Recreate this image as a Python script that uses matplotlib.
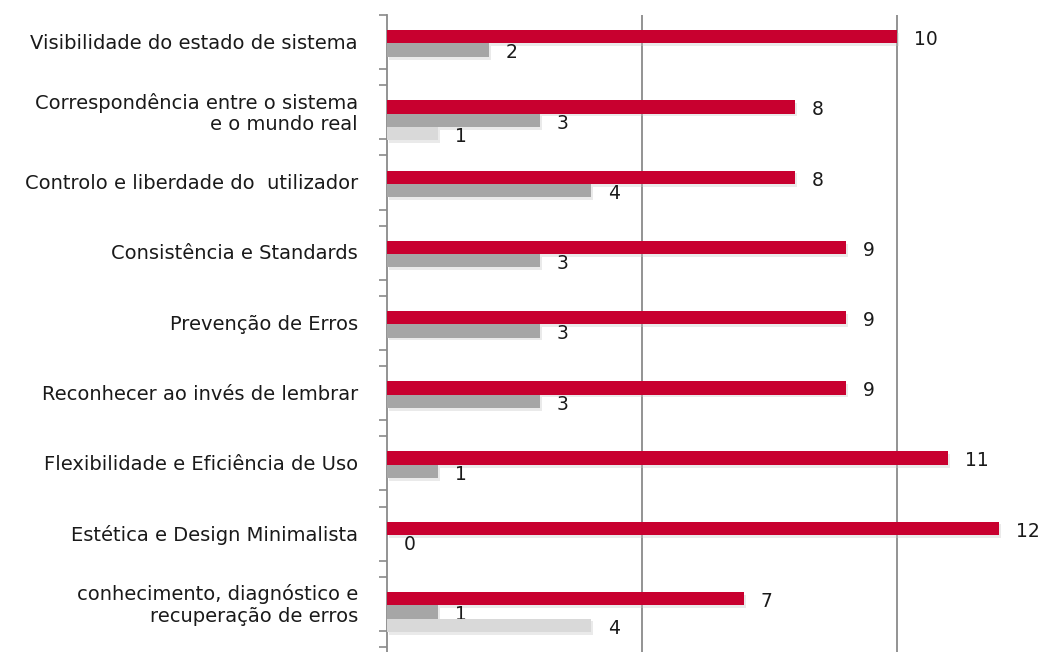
import matplotlib
matplotlib.use('Agg')
import matplotlib.pyplot as plt
import matplotlib.patheffects as pe
import numpy as np

categories = ['Visibilidade do estado de sistema',
              'Correspondência entre o sistema\ne o mundo real',
              'Controlo e liberdade do  utilizador',
              'Consistência e Standards',
              'Prevenção de Erros',
              'Reconhecer ao invés de lembrar',
              'Flexibilidade e Eficiência de Uso',
              'Estética e Design Minimalista',
              'conhecimento, diagnóstico e\nrecuperação de erros']
red_vals = [10, 8, 8, 9, 9, 9, 11, 12, 7]
dark_vals = [2, 3, 4, 3, 3, 3, 1, 0, 1]
light_vals = [None, 1, None, None, None, None, None, None, 4]

colors = ['#C8002F', '#A6A6A6', '#D9D9D9']
series = [red_vals, dark_vals, light_vals]
offsets = [-0.19, 0.0, 0.19]
bar_h = 0.19

fig = plt.figure(figsize=(10.42, 6.52), dpi=100)
ax = fig.add_axes([387 / 1042, 0, 1 - 387 / 1042, 1 - 15 / 652])

font = 'DejaVu Sans'
y = np.arange(len(categories))
shadow = [pe.SimplePatchShadow(offset=(1.5, -2), shadow_rgbFace='#c4c4c4', alpha=0.35), pe.Normal()]

for vals, col, off in zip(series, colors, offsets):
    for i, v in enumerate(vals):
        if v is None:
            continue
        b = ax.barh(y[i] + off, v, height=bar_h, color=col, zorder=3)
        for p in b:
            p.set_path_effects(shadow)
        ax.annotate(str(v), (v, y[i] + off), xytext=(12, -2), textcoords='offset points',
                    ha='left', va='center', fontsize=13.5, family=font, color='#1a1a1a')

for i, lab in enumerate(categories):
    ax.text(-0.57, y[i] - 0.1, lab, ha='right', va='center', fontsize=14,
            family=font, color='#1a1a1a', clip_on=False, linespacing=1.15)

ax.set_xlim(0, (1042 - 387) / 51)
ax.set_ylim(8.57, -0.5)
for gx in [5, 10]:
    ax.axvline(gx, color='#8a8a8a', lw=1.3, zorder=1)

for s in ['top', 'right', 'bottom']:
    ax.spines[s].set_visible(False)
ax.spines['left'].set_color('#8a8a8a')
ax.spines['left'].set_linewidth(1.3)
ax.set_xticks([])
ax.set_yticks([])
minor = sorted([k - 0.5 for k in range(10)] + [k + 0.27 for k in range(9)])
ax.set_yticks(minor, minor=True)
ax.tick_params(axis='y', which='minor', length=6, width=1.2, color='#8a8a8a', labelleft=False)

fig.savefig('out.png', dpi=100, facecolor='white')
